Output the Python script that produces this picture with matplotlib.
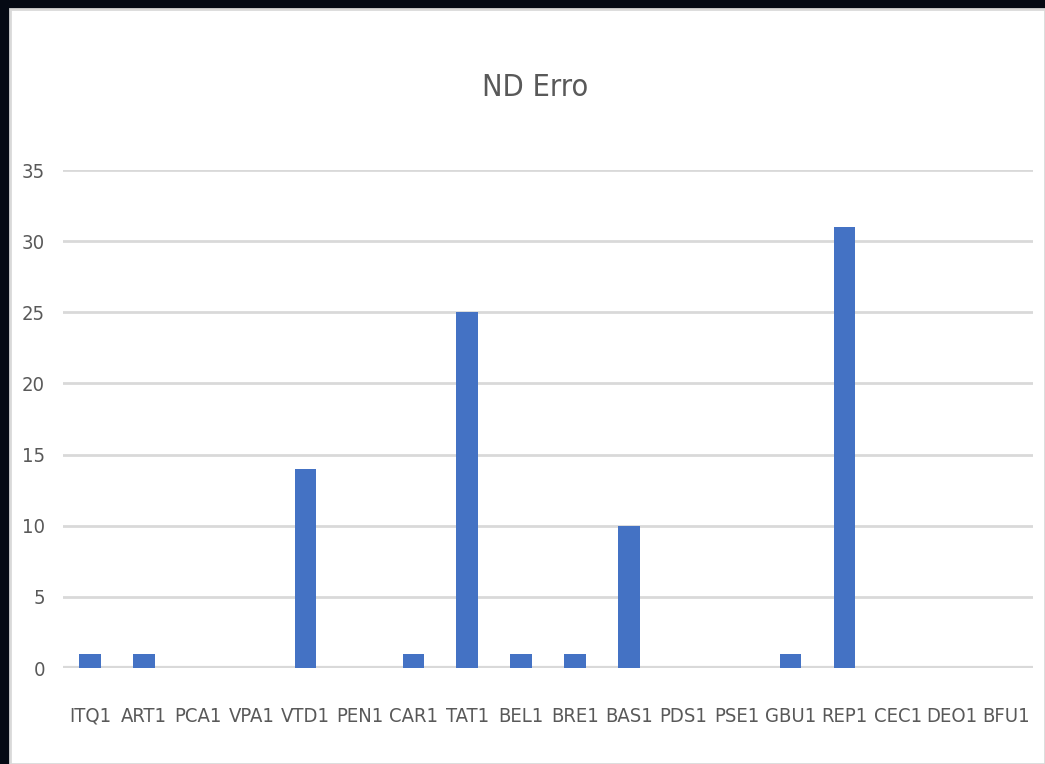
import matplotlib
matplotlib.use("Agg")
import matplotlib.pyplot as plt
from matplotlib.patches import Rectangle
from matplotlib import font_manager

categories = ["ITQ1", "ART1", "PCA1", "VPA1", "VTD1", "PEN1", "CAR1", "TAT1", "BEL1",
              "BRE1", "BAS1", "PDS1", "PSE1", "GBU1", "REP1", "CEC1", "DEO1", "BFU1"]
values = [1, 1, 0, 0, 14, 0, 1, 25, 1, 1, 10, 0, 0, 1, 31, 0, 0, 0]
yticks = [0, 5, 10, 15, 20, 25, 30, 35]
title = "ND Erro"

# find a condensed/narrow regular font if one is installed
cond = None
for f in font_manager.fontManager.ttflist:
    nm = f.name.lower()
    st = str(f.stretch).lower()
    if f.style == "normal" and f.weight in (400, "normal", "regular") and (
            "narrow" in nm or "condensed" in nm or st in ("condensed", "semi-condensed", "extra-condensed")
            or "condensed" in f.fname.lower()):
        if "bold" in f.fname.lower() or "oblique" in f.fname.lower() or "italic" in f.fname.lower():
            continue
        cond = f.fname
        break
fp = font_manager.FontProperties(fname=cond) if cond else font_manager.FontProperties(family="DejaVu Sans")
scale = 1.0 if cond else 0.85

W, H = 1045, 764
fig = plt.figure(figsize=(W / 100, H / 100), dpi=100)
fig.patch.set_facecolor("#050a14")
fig.patches.append(Rectangle((10 / W, 0), 1 - 10 / W, 1 - 9 / H, transform=fig.transFigure,
                             facecolor="white", edgecolor="#d9d9d9", linewidth=2, zorder=-5))

ax = fig.add_axes([63 / W, 1 - 668 / H, (1033 - 63) / W, (668 - 170) / H])
ax.set_zorder(2)
ax.set_facecolor("none")
x = list(range(len(categories)))
ax.bar(x, values, width=0.4, color="#4472c4", zorder=3)
ax.set_xlim(-0.5, len(categories) - 0.5)
ax.set_ylim(0, 35)
ax.set_yticks(yticks)
ax.set_xticks(x)
ax.set_xticklabels(categories)
for s in ax.spines.values():
    s.set_visible(False)
ax.grid(axis="y", color="#d9d9d9", linewidth=2, zorder=0)
ax.axhline(0, color="#d9d9d9", linewidth=3, zorder=2)
ax.tick_params(axis="both", length=0, colors="#595959")
ax.tick_params(axis="x", pad=28)
ax.tick_params(axis="y", pad=13)
for lab in ax.get_xticklabels() + ax.get_yticklabels():
    lab.set_fontproperties(fp)
    lab.set_fontsize(14.5 * scale)
fig.text(535 / W, 1 - 88 / H, title, ha="center", va="center", fontproperties=fp,
         fontsize=22 * scale, color="#595959")

fig.savefig("out.png", dpi=100, facecolor=fig.get_facecolor())
